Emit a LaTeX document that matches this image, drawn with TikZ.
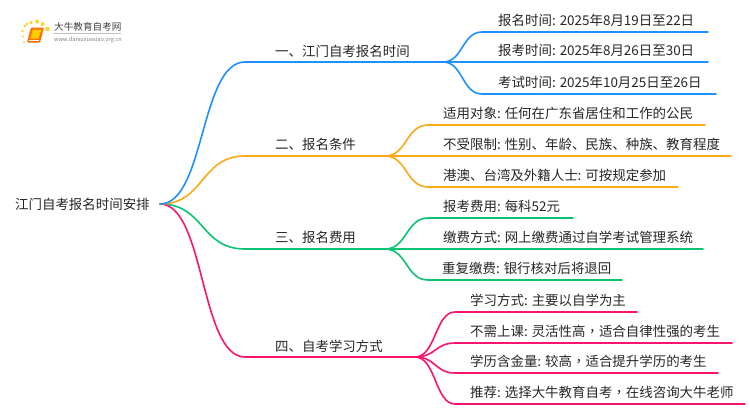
\documentclass[tikz,border=0pt]{standalone}
\usepackage{fontspec}
\setmainfont{Noto Sans CJK SC}
\newfontfamily\tcfont{Noto Sans CJK TC}
\newcommand{\midcomma}{{\tcfont ，}}
\begin{document}
\begin{tikzpicture}[x=1pt,y=-1pt,
  lbl/.style={anchor=base west,inner sep=0pt,text=black!85,font=\fontsize{13.45}{15}\selectfont},
  conn/.style={line width=1.6pt,line cap=round},
  blueline/.style={conn,draw={rgb,255:red,30;green,144;blue,255}},
  orangeline/.style={conn,draw={rgb,255:red,250;green,170;blue,20}},
  greenline/.style={conn,draw={rgb,255:red,10;green,195;blue,115}},
  pinkline/.style={conn,draw={rgb,255:red,250;green,20;blue,110}}]
\useasboundingbox (0,0) rectangle (750,410);
% logo
\foreach \dx/\dy/\r in {25/26/1.6,22.5/31/1.4,27/24/1.4,31/22.5/1.9,37/21.5/2,42.5/24/2,47.5/29/2.3,23/36.5/1.2,24/42/1}
  \fill[orange!45!yellow!80!white] (\dx,\dy) circle (\r);
\fill[orange!85!red,rounded corners=1pt] (31,27.5) -- (44,27.5) -- (40,42.5) -- (27,42.5) -- cycle;
\fill[orange!40!yellow] (33,29.5) -- (41.5,29.5) -- (38.5,38.5) -- (30,38.5) -- cycle;
\draw[white,line width=.7pt] (28.5,40.5) -- (38.5,40.5);
\node[anchor=base west,inner sep=0pt,text=black!75,font=\fontsize{9.6}{11}\selectfont] (brand) at (54,30) {大牛教育自考网};
\draw[black!25,line width=.6pt] (54,33.5) -- (121,33.5);
\node[anchor=base west,inner sep=0pt,text=black!50,font=\fontsize{5.6}{7}\selectfont] (site) at (54,41) {www.daniuxuexiao.org.cn};
% root
\coordinate (r) at (160,204);
\node[lbl] (root) at (15,209) {江门自考报名时间安排};
% branch points
\foreach \n/\a/\b/\yy in {A/245/443/62,B/245/385/156,C/245/385/249,D/245/415/357}{
  \coordinate (\n s) at (\a,\yy);
  \coordinate (\n e) at (\b,\yy);
}
% labels branches
\node[lbl] (A) at (275,56) {一、江门自考报名时间};
\node[lbl] (B) at (275,149.5) {二、报名条件};
\node[lbl] (C) at (275,242.5) {三、报名费用};
\node[lbl] (D) at (275,351) {四、自考学习方式};
% trunks
\draw[greenline] (r) .. controls (205,204) and (200,249) .. (Cs) -- (Ce);
\draw[pinkline] (r) .. controls (205,204) and (200,357) .. (Ds) -- (De);
\draw[orangeline] (r) .. controls (205,204) and (200,156) .. (Bs) -- (Be);
\draw[blueline] (r) .. controls (205,204) and (200,62) .. (As) -- (Ae);
% leaves
\foreach \n/\x/\e/\yy/\st/\tx/\t in {
 a1/482/708/32/blueline/498/{报名时间: 2025年8月19日至22日},
 a2/482/708/62/blueline/498/{报考时间: 2025年8月26日至30日},
 a3/482/716/94/blueline/498/{考试时间: 2025年10月25日至26日}}{
  \coordinate (\n s) at (\x,\yy); \coordinate (\n e) at (\e,\yy);
  \draw[\st] (Ae) .. controls (463,62) and (462,\yy) .. (\n s) -- (\n e);
  \node[lbl] (\n) at (\tx,\yy-7) {\t};
}
\foreach \n/\x/\e/\yy/\st/\tx/\t in {
 b1/428/705/125/orangeline/443/{适用对象: 任何在广东省居住和工作的公民},
 b2/428/731/156/orangeline/443/{不受限制: 性别、年龄、民族、种族、教育程度},
 b3/428/678/187/orangeline/443/{港澳、台湾及外籍人士: 可按规定参加}}{
  \coordinate (\n s) at (\x,\yy); \coordinate (\n e) at (\e,\yy);
  \draw[\st] (Be) .. controls (407,156) and (406,\yy) .. (\n s) -- (\n e);
  \node[lbl] (\n) at (\tx,\yy-7) {\t};
}
\foreach \n/\x/\e/\yy/\st/\tx/\t in {
 c1/428/573/218/greenline/443/{报考费用: 每科52元},
 c2/428/703/249/greenline/443/{缴费方式: 网上缴费通过自学考试管理系统},
 c3/428/622/280/greenline/442/{重复缴费: 银行核对后将退回}}{
  \coordinate (\n s) at (\x,\yy); \coordinate (\n e) at (\e,\yy);
  \draw[\st] (Ce) .. controls (407,249) and (406,\yy) .. (\n s) -- (\n e);
  \node[lbl] (\n) at (\tx,\yy-7) {\t};
}
\foreach \n/\x/\e/\yy/\st/\tx/\t in {
 d1/455/637/312/pinkline/470/{学习方式: 主要以自学为主},
 d2/455/732/343/pinkline/470/{不需上课: 灵活性高\midcomma 适合自律性强的考生},
 d3/455/718/373/pinkline/470/{学历含金量: 较高\midcomma 适合提升学历的考生},
 d4/455/745/404/pinkline/470/{推荐: 选择大牛教育自考\midcomma 在线咨询大牛老师}}{
  \coordinate (\n s) at (\x,\yy); \coordinate (\n e) at (\e,\yy);
  \draw[\st] (De) .. controls (436,357) and (435,\yy) .. (\n s) -- (\n e);
  \node[lbl] (\n) at (\tx,\yy-7) {\t};
}
\end{tikzpicture}
\end{document}
